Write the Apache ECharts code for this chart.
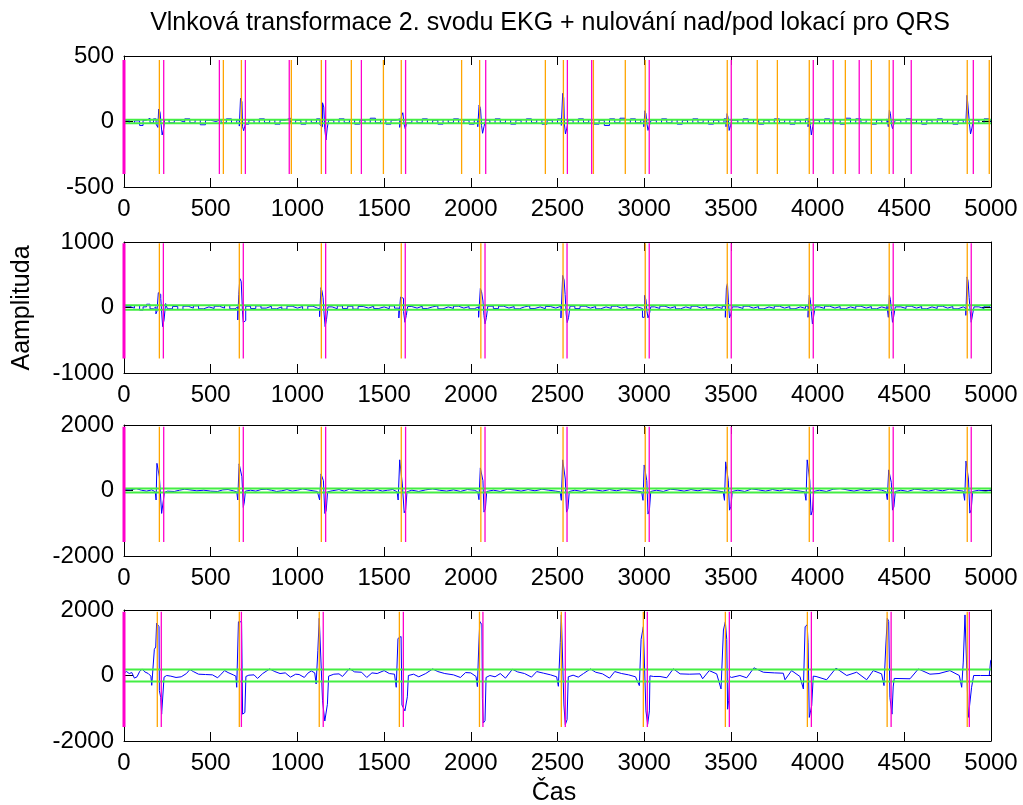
<!DOCTYPE html>
<html>
<head>
<meta charset="utf-8">
<script src="https://cdn.jsdelivr.net/npm/echarts@6/dist/echarts.min.js"></script>
<style>
html, body { margin: 0; padding: 0; background: #fff; }
#chart { width: 1023px; height: 805px; }
</style>
</head>
<body>
<div id="chart"></div>
<script>
// ---- data ----
const titleText = 'Vlnková transformace 2. svodu EKG + nulování nad/pod lokací pro QRS'
const yName = 'Aamplituda'
const xName = 'Čas'

const xMax = 5000
const xStep = 500
const yLimits = [500, 1000, 2000, 2000] // +/- per subplot
const thresholds = [14, 35, 60, 180] // green lines +/-
const markExtent = [[-400, 470], [-780, 980], [-1570, 1950], [-1570, 1950]] // vertical marker span

// detail level 1
const sig1 = [[0,10],[30,-15],[60,5],[90,-30],[110,10],[130,25],[150,-10],[170,20],[185,-20],[195,-45],[200,95],[208,70],[214,-20],[220,-103],[228,-60],[235,15],[260,-10],[290,10],[320,-5],[350,20],[380,-10],[410,15],[440,-25],[470,10],[500,0],[530,15],[560,-10],[590,20],[620,-15],[650,10],[665,-35],[672,177],[680,150],[684,-40],[690,-70],[700,-20],[720,10],[750,-15],[780,20],[810,-10],[840,15],[870,-20],[900,10],[930,25],[960,-15],[990,10],[1020,-20],[1050,15],[1080,-10],[1110,20],[1130,-25],[1140,-40],[1145,143],[1152,110],[1158,-60],[1165,-141],[1172,-50],[1180,10],[1210,-15],[1240,20],[1270,-10],[1300,15],[1330,-20],[1360,10],[1390,-15],[1420,25],[1450,-10],[1480,15],[1510,-20],[1540,10],[1570,20],[1590,-45],[1600,40],[1608,67],[1615,-20],[1622,-55],[1630,-10],[1660,15],[1690,-10],[1720,20],[1750,-15],[1780,10],[1810,-20],[1840,15],[1870,-10],[1900,20],[1930,-15],[1960,10],[1990,-20],[2020,15],[2040,-40],[2048,126],[2056,100],[2062,-30],[2068,-90],[2076,-40],[2085,10],[2110,-15],[2140,20],[2170,-10],[2200,15],[2230,-20],[2260,10],[2290,-15],[2320,20],[2350,-10],[2380,15],[2410,-20],[2440,10],[2470,-15],[2500,20],[2522,-30],[2530,215],[2536,180],[2540,-20],[2546,-95],[2554,-50],[2562,10],[2590,-15],[2620,20],[2650,-10],[2680,15],[2710,-20],[2740,10],[2770,-30],[2800,20],[2830,-10],[2860,25],[2890,-15],[2920,20],[2950,-10],[2980,15],[2998,-40],[3004,82],[3010,60],[3016,-20],[3022,-68],[3030,-30],[3040,10],[3070,-15],[3100,20],[3130,-10],[3160,15],[3190,-20],[3220,10],[3250,-15],[3280,20],[3310,-10],[3340,15],[3370,-20],[3400,10],[3430,-15],[3460,20],[3472,-40],[3478,60],[3484,30],[3490,-68],[3498,-30],[3506,10],[3540,-15],[3570,20],[3600,-10],[3630,15],[3660,-20],[3690,10],[3720,-15],[3750,20],[3780,-10],[3810,15],[3840,-20],[3870,10],[3900,-15],[3930,20],[3945,-40],[3952,30],[3958,-30],[3964,-103],[3972,-40],[3980,10],[4010,-15],[4040,20],[4070,-10],[4100,15],[4130,-20],[4160,25],[4190,-15],[4220,20],[4250,-10],[4280,15],[4310,-20],[4340,10],[4370,-15],[4400,20],[4408,-40],[4414,88],[4420,60],[4426,-20],[4432,-55],[4440,-20],[4448,10],[4480,-15],[4510,20],[4540,-10],[4570,15],[4600,-20],[4630,10],[4660,-15],[4690,20],[4720,-10],[4750,15],[4780,-20],[4810,10],[4840,-15],[4855,-30],[4862,200],[4872,200],[4876,-20],[4882,-95],[4890,-50],[4898,10],[4930,-15],[4960,20],[4990,-10],[5000,15]]

// detail level 2
const sig2 = [[0,20],[30,-10],[60,30],[90,-40],[110,10],[130,50],[150,-20],[170,10],[184,-97],[190,-60],[198,226],[206,200],[212,140],[218,-100],[223,-292],[231,-190],[240,60],[250,-20],[280,15],[310,-30],[340,20],[370,-10],[400,25],[430,-20],[460,10],[490,-15],[520,20],[550,-10],[580,30],[610,-20],[640,10],[656,-190],[662,200],[668,442],[676,400],[684,-100],[688,-226],[696,-200],[702,20],[730,-15],[760,25],[790,-10],[820,20],[850,-20],[880,10],[910,-25],[940,20],[970,-10],[1000,15],[1030,-30],[1060,20],[1090,-10],[1115,-20],[1128,-140],[1136,303],[1142,250],[1148,150],[1154,-100],[1160,-292],[1168,-180],[1176,10],[1200,-20],[1230,25],[1260,-15],[1290,20],[1320,-25],[1350,15],[1380,-10],[1410,20],[1440,-15],[1470,10],[1500,-20],[1530,25],[1560,-10],[1585,-160],[1595,160],[1605,140],[1612,-60],[1620,-226],[1628,-120],[1636,15],[1660,-10],[1690,20],[1720,-15],[1750,10],[1780,25],[1810,-20],[1840,10],[1870,-15],[1900,20],[1930,-10],[1960,15],[1990,-20],[2020,10],[2045,-150],[2055,290],[2062,240],[2070,100],[2076,-120],[2082,-250],[2090,-150],[2098,20],[2130,-15],[2160,20],[2190,-10],[2220,15],[2250,-20],[2280,10],[2310,25],[2340,-15],[2370,10],[2400,-20],[2430,15],[2460,-10],[2490,20],[2520,-160],[2530,490],[2538,420],[2544,200],[2550,-100],[2556,-230],[2564,-150],[2572,20],[2600,-15],[2630,20],[2660,-10],[2690,15],[2720,-20],[2750,10],[2780,-15],[2810,20],[2840,-10],[2870,15],[2900,-20],[2930,10],[2960,-15],[2990,-150],[3002,185],[3010,120],[3016,-60],[3022,-159],[3030,-100],[3038,10],[3060,-15],[3090,20],[3120,-10],[3150,15],[3180,-20],[3210,10],[3240,-15],[3270,20],[3300,-10],[3330,15],[3360,-20],[3390,10],[3420,-15],[3450,20],[3468,-150],[3474,300],[3480,365],[3486,80],[3492,-159],[3500,-100],[3508,10],[3540,-15],[3570,20],[3600,-10],[3630,15],[3660,-20],[3690,10],[3720,-15],[3750,20],[3780,-10],[3810,15],[3840,-20],[3870,10],[3900,-15],[3930,20],[3945,-150],[3952,185],[3958,120],[3964,-60],[3970,-251],[3978,-120],[3986,10],[4010,-15],[4040,20],[4070,-10],[4100,15],[4130,-20],[4160,10],[4190,-15],[4220,20],[4250,-10],[4280,15],[4310,-20],[4340,10],[4370,-15],[4400,20],[4408,-150],[4414,185],[4420,120],[4426,-60],[4432,-226],[4440,-120],[4448,10],[4480,-15],[4510,20],[4540,-10],[4570,15],[4600,-20],[4630,10],[4660,-15],[4690,20],[4720,-10],[4750,15],[4780,-20],[4810,10],[4840,-15],[4855,-120],[4862,467],[4868,400],[4874,150],[4880,-60],[4886,-226],[4894,-100],[4902,10],[4930,-15],[4960,20],[4990,-10],[5000,30]]

// detail level 3
const sig3 = [[0,30],[40,20],[70,60],[100,10],[130,-20],[160,20],[180,-40],[185,-290],[190,830],[198,800],[204,420],[212,410],[217,-700],[227,-680],[233,-60],[250,-20],[290,-30],[320,10],[350,40],[380,20],[420,-10],[460,10],[500,-20],[540,-30],[570,20],[600,30],[630,-10],[650,-40],[656,-290],[664,814],[672,780],[680,420],[688,-516],[694,-350],[700,-20],[730,10],[760,-20],[790,30],[820,40],[850,10],[880,-30],[910,-10],[940,30],[970,-20],[1000,10],[1030,50],[1060,20],[1090,-10],[1115,-30],[1128,-290],[1136,507],[1144,490],[1150,300],[1158,-700],[1166,-620],[1174,-40],[1200,-10],[1240,30],[1270,-20],[1300,40],[1330,10],[1370,-20],[1400,20],[1430,-10],[1460,30],[1490,-20],[1520,10],[1550,30],[1575,-40],[1581,-290],[1590,937],[1598,900],[1605,200],[1616,-680],[1624,-600],[1632,-40],[1660,10],[1700,-30],[1740,20],[1780,50],[1820,10],[1860,-20],[1900,20],[1940,-30],[1980,30],[2020,10],[2040,-40],[2047,-280],[2055,690],[2063,660],[2070,300],[2076,-660],[2084,-560],[2092,-30],[2130,10],[2170,-30],[2210,40],[2250,20],[2290,-20],[2330,30],[2370,-10],[2410,40],[2450,10],[2490,-20],[2515,-40],[2522,-300],[2530,936],[2538,900],[2545,350],[2552,-660],[2560,-560],[2568,-30],[2600,10],[2640,-30],[2680,40],[2720,20],[2760,-20],[2800,30],[2840,-10],[2880,40],[2920,10],[2960,-20],[2985,-40],[2993,-300],[3000,780],[3008,740],[3015,300],[3022,-720],[3030,-600],[3038,-30],[3070,10],[3110,-30],[3150,40],[3190,20],[3230,-20],[3270,30],[3310,-10],[3350,40],[3390,10],[3430,-20],[3455,-40],[3463,-300],[3470,875],[3478,840],[3485,300],[3492,-600],[3500,-500],[3508,-30],[3540,10],[3580,-30],[3620,50],[3660,20],[3700,-20],[3740,30],[3780,-10],[3820,40],[3860,10],[3900,-20],[3925,-40],[3933,-300],[3940,936],[3948,900],[3955,300],[3962,-750],[3970,-620],[3978,-30],[4010,10],[4050,-30],[4090,40],[4130,60],[4170,20],[4210,-20],[4250,30],[4290,-10],[4330,40],[4370,10],[4395,-40],[4402,-280],[4410,630],[4418,600],[4425,250],[4432,-600],[4440,-500],[4448,-30],[4480,10],[4520,-30],[4560,40],[4600,20],[4640,-20],[4680,30],[4720,-10],[4760,40],[4800,10],[4840,-20],[4848,-300],[4856,900],[4864,880],[4870,350],[4878,-690],[4886,-580],[4894,-30],[4930,10],[4970,-20],[5000,20]]

// detail level 4
const sig4 = [[0,80],[15,120],[30,60],[45,90],[60,-80],[75,-40],[90,120],[105,200],[120,110],[140,60],[155,-20],[160,-300],[169,-310],[175,800],[183,870],[188,1600],[196,1620],[202,1490],[204,-460],[212,-670],[217,-1180],[227,-1130],[231,-50],[246,0],[270,-20],[300,-60],[330,-40],[360,60],[380,185],[400,120],[430,40],[470,30],[510,20],[540,-70],[560,40],[580,150],[600,90],[630,20],[645,-20],[650,-360],[655,-360],[660,1640],[670,1700],[678,1640],[684,-1180],[697,-1130],[703,-30],[720,10],[750,20],[770,-90],[800,60],[840,200],[870,120],[900,60],[930,80],[960,-50],[990,40],[1010,30],[1040,-60],[1060,70],[1080,140],[1100,80],[1108,-260],[1115,-260],[1118,770],[1126,1750],[1136,1700],[1145,-770],[1158,-1390],[1173,-880],[1180,-20],[1210,40],[1240,50],[1260,-30],[1300,210],[1330,110],[1370,100],[1400,-60],[1430,80],[1460,60],[1500,150],[1530,60],[1560,40],[1570,-360],[1575,-360],[1580,1130],[1598,1190],[1603,-900],[1620,-1080],[1634,-650],[1640,0],[1670,40],[1700,-40],[1740,60],[1780,200],[1810,120],[1850,60],[1900,20],[1940,-60],[1970,90],[2000,80],[2030,-30],[2038,-340],[2043,-340],[2046,900],[2052,1650],[2060,1680],[2064,1550],[2067,-700],[2072,-1450],[2082,-1380],[2088,-60],[2110,0],[2140,-40],[2170,60],[2200,-80],[2240,190],[2270,110],[2310,60],[2350,-50],[2380,120],[2420,70],[2460,20],[2495,-40],[2505,-330],[2512,-330],[2516,1000],[2522,1850],[2532,1800],[2537,-900],[2545,-1500],[2555,-1350],[2562,-40],[2590,10],[2620,-50],[2650,60],[2690,200],[2720,100],[2760,50],[2800,-80],[2830,120],[2870,60],[2910,20],[2950,-40],[2972,-310],[2982,1100],[2995,1490],[3003,1450],[3010,-1080],[3020,-1490],[3030,-1080],[3033,-10],[3053,-30],[3091,-30],[3130,-70],[3168,205],[3207,50],[3260,40],[3322,50],[3337,-100],[3375,150],[3418,50],[3443,-410],[3457,1390],[3468,1640],[3476,1100],[3481,-1030],[3487,-770],[3492,-30],[3504,-60],[3552,0],[3591,-70],[3633,235],[3687,100],[3750,80],[3802,70],[3812,-130],[3850,150],[3898,-30],[3918,-410],[3928,1490],[3940,1550],[3945,1000],[3952,-1280],[3966,-920],[3975,-20],[3991,-30],[4052,-130],[4106,225],[4168,0],[4225,100],[4283,-130],[4321,150],[4369,50],[4383,-308],[4393,870],[4402,1750],[4410,1650],[4417,-670],[4429,-1180],[4436,-350],[4442,-90],[4450,-60],[4533,-100],[4581,200],[4648,40],[4700,60],[4763,150],[4817,0],[4831,-360],[4840,410],[4850,1850],[4860,1880],[4869,-1280],[4879,-1330],[4888,-360],[4900,0],[4940,0],[4990,0],[4998,460],[5000,480]]

// QRS location markers (orange = onset, magenta = end)
const orange1 = [204, 573, 677, 965, 1138, 1311, 1496, 1599, 1947, 2051, 2430, 2534, 2707, 2891, 3006, 3479, 3652, 3768, 3952, 4160, 4310, 4413, 4863, 4990]
const magenta1 = [0, 229, 550, 700, 953, 1163, 1369, 1624, 2086, 2557, 2697, 3029, 3502, 3975, 4090, 4240, 4436, 4540, 4898]
const orange2 = [204, 665, 1138, 1599, 2058, 2532, 3006, 3479, 3952, 4413, 4863]
const magenta2 = [0, 227, 688, 1163, 1622, 2082, 2555, 3029, 3502, 3975, 4436, 4886]
const orange3 = [204, 665, 1138, 1599, 2058, 2532, 3006, 3479, 3952, 4413, 4863]
const magenta3 = [0, 229, 688, 1163, 1624, 2082, 2555, 3029, 3502, 3975, 4436, 4886]
const orange4 = [192, 665, 1126, 1588, 2050, 2522, 2995, 3468, 3941, 4401, 4863]
const magenta4 = [0, 215, 677, 1149, 1611, 2070, 2545, 3018, 3491, 3964, 4424, 4875]

const signals = [sig1, sig2, sig3, sig4]
const oranges = [orange1, orange2, orange3, orange4]
const magentas = [magenta1, magenta2, magenta3, magenta4]

// ---- layout ----
const gridTops = [56, 242, 425, 610]
const gridHeight = 131
const font = '"Liberation Sans", Arial, sans-serif'

const chart = echarts.init(document.getElementById('chart'))

let grids = []
let xAxes = []
let yAxes = []
let series = []

const tickStyle = { inside: true, length: 9, lineStyle: { color: '#000', width: 1 } }
const axisLine = { onZero: false, lineStyle: { color: '#000', width: 1 } }

// vertical segments broken by '-' so one line series holds all markers
function vSegments (xs, ext) {
  let out = []
  for (const x of xs) {
    out.push([x, ext[0]], [x, ext[1]], [x, '-'])
  }
  return out
}

for (let i = 0; i < 4; i++) {
  grids.push({ left: 124, right: 32, top: gridTops[i], height: gridHeight })
  let lim = yLimits[i]
  // bottom / top x axes (top one only for the box)
  xAxes.push({
    gridIndex: i, type: 'value', min: 0, max: xMax, interval: xStep, position: 'bottom',
    axisLine: axisLine, axisTick: tickStyle, splitLine: { show: false },
    axisLabel: { fontSize: 24, fontFamily: font, color: '#000', margin: 10, formatter: v => String(v) }
  })
  xAxes.push({
    gridIndex: i, type: 'value', min: 0, max: xMax, interval: xStep, position: 'top',
    axisLine: axisLine, axisTick: tickStyle, splitLine: { show: false }, axisLabel: { show: false }
  })
  yAxes.push({
    gridIndex: i, type: 'value', min: -lim, max: lim, interval: lim, position: 'left',
    axisLine: axisLine, axisTick: tickStyle, splitLine: { show: false },
    axisLabel: { fontSize: 24, fontFamily: font, color: '#000', margin: 10, formatter: v => String(v) }
  })
  yAxes.push({
    gridIndex: i, type: 'value', min: -lim, max: lim, interval: lim, position: 'right',
    axisLine: axisLine, axisTick: tickStyle, splitLine: { show: false }, axisLabel: { show: false }
  })

  let xi = i * 2
  let yi = i * 2
  // signal
  series.push({
    type: 'line', xAxisIndex: xi, yAxisIndex: yi, data: signals[i],
    step: i < 2 ? 'end' : false, showSymbol: false, symbol: 'none',
    lineStyle: { color: '#0000ff', width: 1 }, z: 2
  })
  // threshold lines
  let t = thresholds[i]
  series.push({
    type: 'line', xAxisIndex: xi, yAxisIndex: yi, symbol: 'none', connectNulls: false,
    data: [[0, t], [xMax, t], [xMax, '-'], [0, -t], [xMax, -t]],
    lineStyle: { color: '#44ee44', width: 2 }, silent: true, z: 3
  })
  // markers
  let ext = markExtent[i]
  series.push({
    type: 'line', xAxisIndex: xi, yAxisIndex: yi, symbol: 'none', connectNulls: false,
    data: vSegments(oranges[i], ext),
    lineStyle: { color: '#ffa500', width: 1.3 }, silent: true, z: 4
  })
  series.push({
    type: 'line', xAxisIndex: xi, yAxisIndex: yi, symbol: 'none', connectNulls: false,
    data: vSegments(magentas[i].filter(x => x !== 0), ext),
    lineStyle: { color: '#ff00cc', width: 1.3 }, silent: true, z: 5
  })
  // the marker at x = 0 sits on the axis and shows thicker
  series.push({
    type: 'line', xAxisIndex: xi, yAxisIndex: yi, symbol: 'none',
    data: vSegments(magentas[i].filter(x => x === 0), ext),
    lineStyle: { color: '#ff00cc', width: 3 }, silent: true, z: 6
  })
}

let option = {
  backgroundColor: '#fff',
  animation: false,
  grid: grids,
  xAxis: xAxes,
  yAxis: yAxes,
  series: series,
  graphic: [
    {
      type: 'text', x: 550, y: 23,
      style: { text: titleText, fontSize: 25, fontFamily: font, fill: '#000', align: 'center', verticalAlign: 'middle' }
    },
    {
      type: 'text', x: 22, y: 308, rotation: Math.PI / 2,
      style: { text: yName, fontSize: 25, fontFamily: font, fill: '#000', align: 'center', verticalAlign: 'middle' }
    },
    {
      type: 'text', x: 554, y: 793,
      style: { text: xName, fontSize: 25, fontFamily: font, fill: '#000', align: 'center', verticalAlign: 'middle' }
    }
  ]
}

chart.setOption(option)
</script>
</body>
</html>
